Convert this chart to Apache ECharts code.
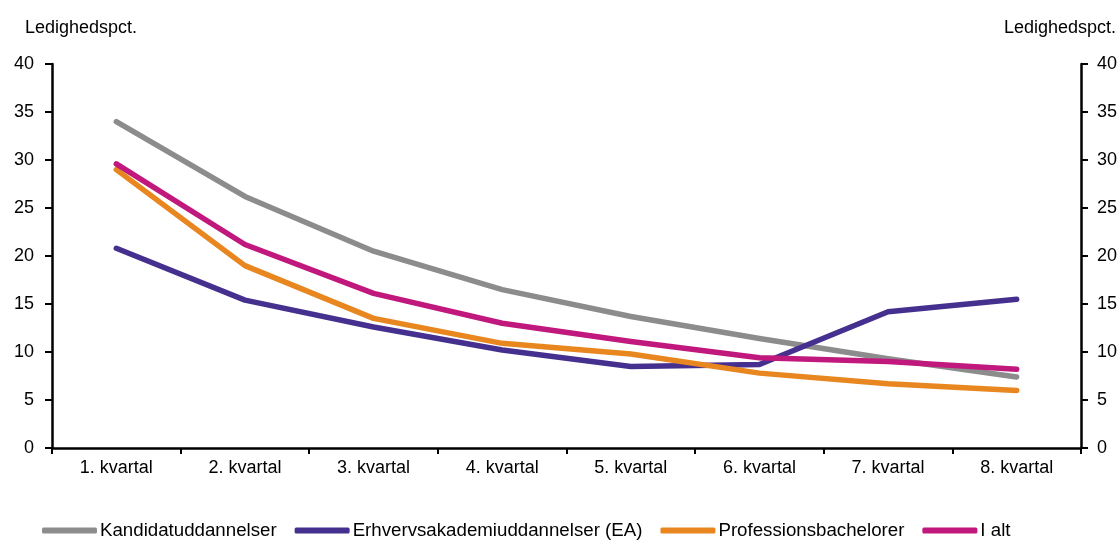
<!DOCTYPE html>
<html><head><meta charset="utf-8">
<script src="https://cdn.jsdelivr.net/npm/echarts@6/dist/echarts.min.js"></script>
<style>html,body{margin:0;padding:0;background:#fff}#c{width:1120px;height:541px}</style>
</head><body><div id="c"></div>
<script>
const categories = ['1. kvartal','2. kvartal','3. kvartal','4. kvartal','5. kvartal','6. kvartal','7. kvartal','8. kvartal'];
const kandidat = [34.0, 26.2, 20.5, 16.5, 13.7, 11.4, 9.3, 7.4];
const erhverv = [20.8, 15.4, 12.6, 10.2, 8.5, 8.7, 14.2, 15.5];
const profession = [29.0, 19.0, 13.5, 10.9, 9.8, 7.8, 6.7, 6.0];
const ialt = [29.6, 21.2, 16.1, 13.0, 11.1, 9.4, 9.0, 8.2];
const yTicks = [0,5,10,15,20,25,30,35,40];
const axisTitle = 'Ledighedspct.';

const font = 'Liberation Sans, Arial, sans-serif';
const fs = 18;
const chart = echarts.init(document.getElementById('c'));
const yAx = (pos) => ({
  type:'value', position:pos, min:0, max:40, interval:5,
  axisLine:{show:true, lineStyle:{color:'#000', width:2.5}},
  axisTick:{show:true, length:7, lineStyle:{color:'#000', width:2}},
  axisLabel:{color:'#000', fontFamily:font, fontSize:fs, margin: pos==='left'?18:16, formatter:v=>yTicks.includes(v)?String(v):''},
  splitLine:{show:false}
});
const mk = (name, data, color) => ({
  name, type:'line', data, symbol:'none',
  lineStyle:{color, width:5.5, cap:'round', join:'round'}, itemStyle:{color}
});
chart.setOption({
  animation:false,
  grid:{left:52, right:38, top:64, bottom:93, containLabel:false},
  graphic:[
    {type:'text', left:25, top:19, style:{text:axisTitle, fill:'#000', font:fs+'px '+font}},
    {type:'text', right:4, top:19, style:{text:axisTitle, fill:'#000', font:fs+'px '+font}}
  ],
  legend:{
    top:516, left:37, itemWidth:55, itemHeight:6, itemGap:18,
    icon:'roundRect',
    textStyle:{color:'#000', fontFamily:font, fontSize:18.7, padding:[0,0,0,-2]},
    data:['Kandidatuddannelser','Erhvervsakademiuddannelser (EA)','Professionsbachelorer','I alt']
  },
  xAxis:{
    type:'category', data:categories, boundaryGap:true,
    axisLine:{lineStyle:{color:'#000', width:2.5}},
    axisTick:{show:true, length:6, lineStyle:{color:'#000', width:2}},
    axisLabel:{color:'#000', fontFamily:font, fontSize:fs, margin:11}
  },
  yAxis:[yAx('left'), yAx('right')],
  series:[
    mk('Kandidatuddannelser', kandidat, '#8c8c8c'),
    mk('Erhvervsakademiuddannelser (EA)', erhverv, '#46308f'),
    mk('Professionsbachelorer', profession, '#e8861f'),
    mk('I alt', ialt, '#c0187c')
  ]
});
</script></body></html>
